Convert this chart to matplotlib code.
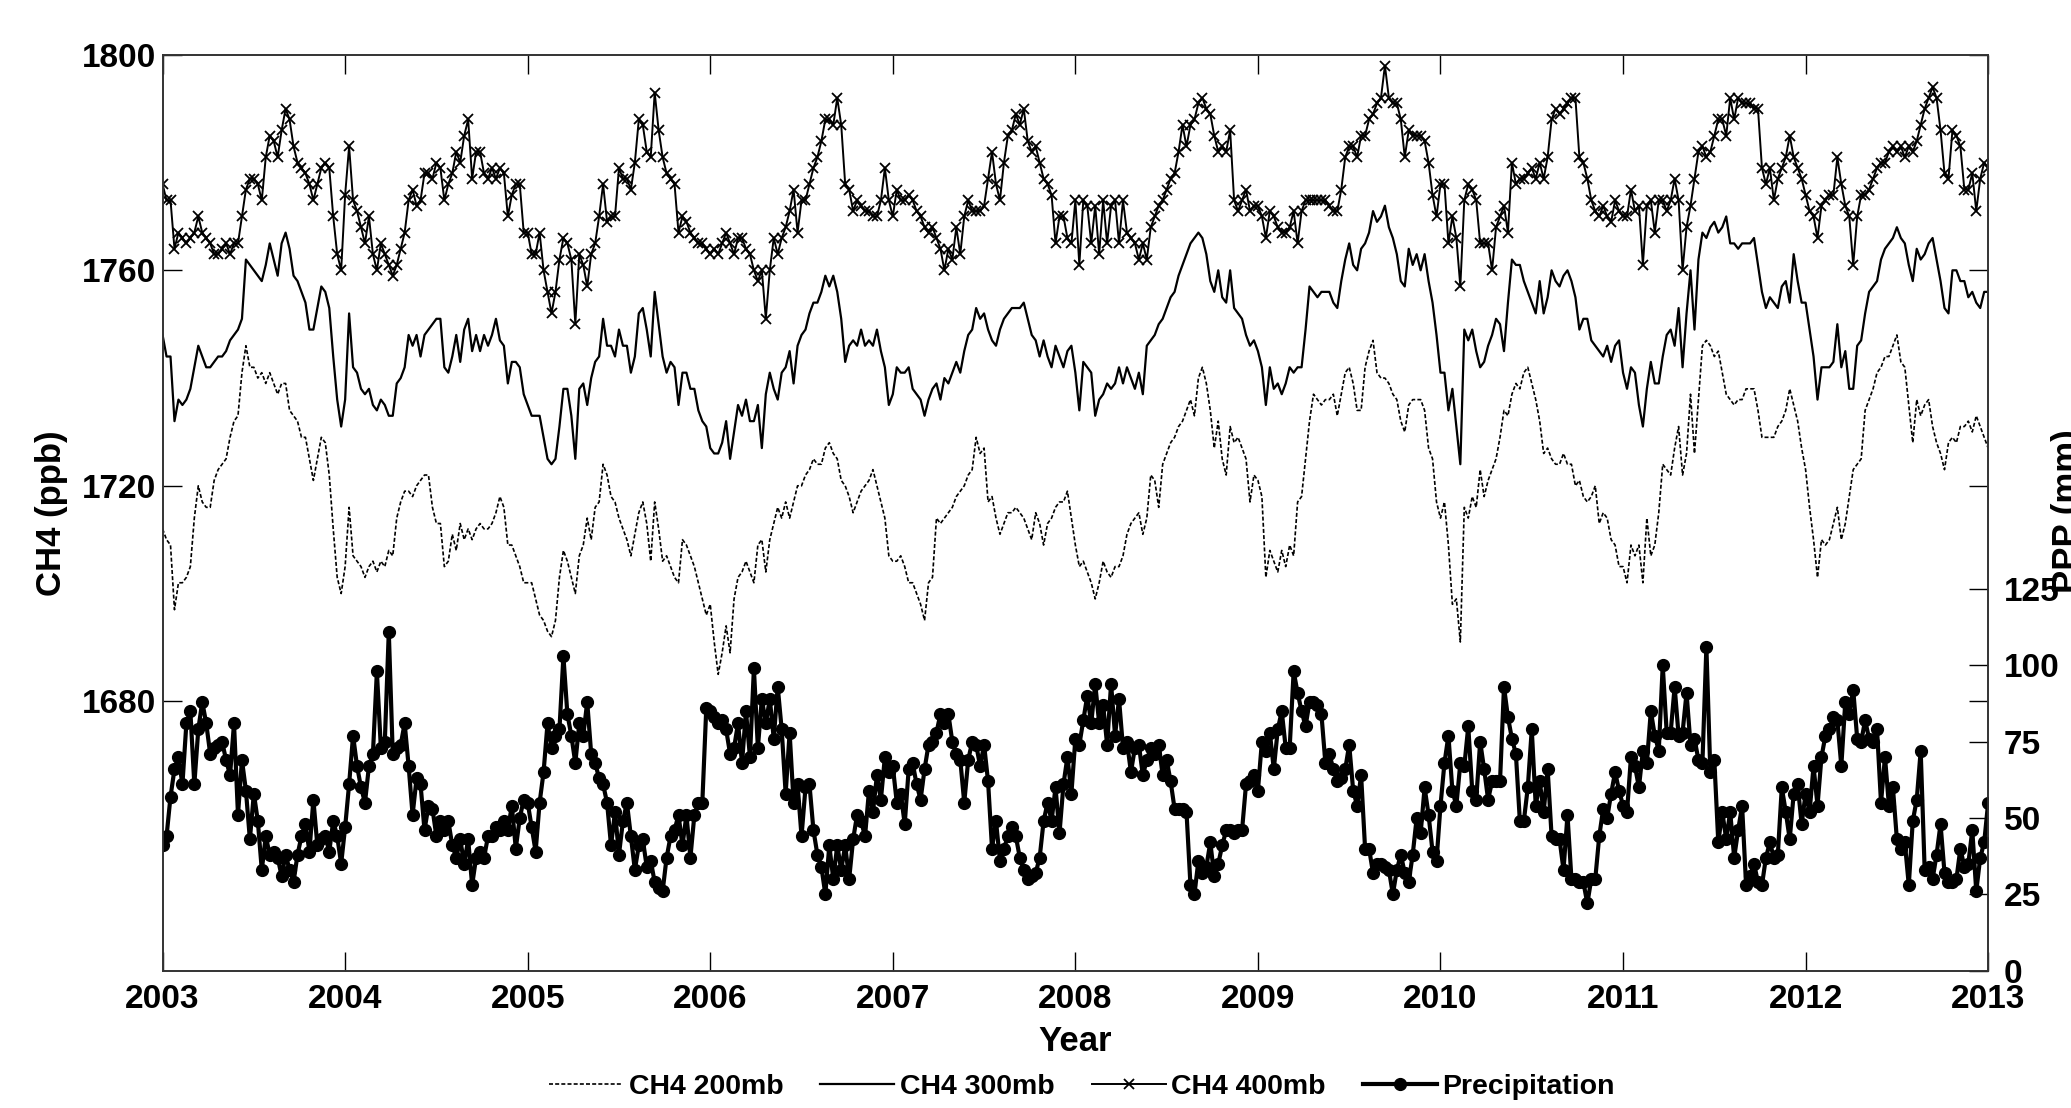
import numpy as np
import matplotlib
matplotlib.use("Agg")
import matplotlib.pyplot as plt

plt.rcParams['font.family'] = ['Liberation Sans', 'DejaVu Sans']
plt.rcParams['font.weight'] = 'bold'

# 8-day values, 46 per year, 2003.0 .. 2013.0
ch4_400 = [
    1776,1773,1773,1764,1767,1766,1765,1766,1767,1770,1767,1766,1765,1763,1763,1764,1765,1763,1765,1765,1770,1775,1777,1777,1776,1773,1781,1785,1784,1781,1786,1790,1788,1783,1780,1779,1778,1776,1773,1776,1779,1780,1779,1770,1763,1760,
    1774,1783,1773,1771,1768,1765,1770,1763,1760,1765,1763,1761,1759,1761,1764,1767,1773,1775,1772,1773,1778,1778,1777,1780,1779,1773,1776,1778,1782,1780,1785,1788,1777,1782,1782,1778,1777,1779,1777,1779,1778,1770,1774,1776,1776,1767,
    1767,1763,1763,1767,1760,1756,1752,1756,1762,1766,1765,1762,1750,1763,1761,1757,1763,1765,1770,1776,1769,1770,1770,1779,1777,1777,1775,1780,1788,1787,1782,1781,1793,1786,1781,1778,1777,1776,1767,1770,1769,1767,1766,1765,1765,1764,
    1763,1764,1763,1765,1767,1765,1763,1766,1766,1764,1763,1760,1758,1760,1751,1760,1766,1763,1766,1768,1771,1775,1767,1773,1773,1776,1779,1781,1784,1788,1788,1787,1792,1787,1776,1775,1771,1773,1772,1771,1771,1770,1770,1773,1779,1773,
    1770,1775,1773,1773,1774,1773,1771,1770,1768,1767,1768,1766,1764,1760,1764,1762,1768,1763,1770,1773,1771,1771,1771,1772,1777,1782,1776,1773,1780,1785,1786,1789,1787,1790,1784,1782,1783,1780,1777,1776,1774,1765,1770,1770,1766,1765,
    1773,1761,1773,1772,1765,1772,1763,1773,1765,1772,1773,1765,1773,1767,1766,1765,1762,1765,1762,1768,1770,1772,1773,1775,1777,1778,1782,1787,1783,1787,1788,1791,1792,1790,1789,1785,1782,1783,1782,1786,1773,1771,1773,1775,1771,1772,
    1772,1770,1766,1771,1770,1768,1767,1767,1768,1771,1765,1771,1773,1773,1773,1773,1773,1773,1772,1771,1771,1775,1781,1783,1783,1781,1785,1785,1788,1789,1791,1792,1798,1792,1791,1791,1788,1781,1786,1785,1785,1785,1784,1780,1774,1770,
    1776,1776,1765,1770,1766,1757,1773,1776,1775,1773,1765,1765,1765,1760,1768,1770,1772,1767,1780,1776,1777,1777,1778,1779,1777,1780,1777,1781,1788,1790,1789,1790,1791,1792,1792,1781,1780,1777,1773,1771,1770,1772,1770,1769,1773,1771,
    1770,1770,1775,1771,1772,1761,1772,1773,1767,1773,1773,1771,1773,1777,1773,1760,1768,1772,1777,1782,1783,1781,1782,1785,1788,1788,1785,1792,1788,1792,1791,1791,1791,1790,1790,1779,1776,1779,1773,1777,1779,1781,1785,1781,1779,1777,
    1774,1771,1770,1766,1772,1773,1774,1774,1781,1776,1772,1770,1761,1770,1774,1774,1775,1777,1779,1780,1780,1782,1783,1782,1783,1781,1783,1782,1784,1787,1790,1792,1794,1792,1786,1778,1777,1786,1785,1783,1775,1775,1778,1771,1777,1780,
    1779]

ch4_300 = [
    1748,1744,1744,1732,1736,1735,1736,1738,1742,1746,1744,1742,1742,1743,1744,1744,1745,1747,1748,1749,1751,1762,1761,1760,1759,1758,1761,1765,1762,1759,1765,1767,1764,1759,1758,1756,1754,1749,1749,1753,1757,1756,1753,1744,1736,1731,
    1736,1752,1742,1741,1738,1737,1738,1735,1734,1736,1735,1733,1733,1739,1740,1742,1748,1746,1748,1744,1748,1749,1750,1751,1751,1742,1741,1744,1748,1743,1749,1751,1745,1748,1745,1748,1746,1748,1751,1747,1746,1739,1743,1743,1742,1737,
    1735,1733,1733,1733,1729,1725,1724,1725,1731,1738,1738,1733,1725,1738,1739,1735,1740,1743,1744,1751,1746,1746,1744,1749,1746,1746,1741,1744,1752,1753,1749,1744,1756,1750,1744,1741,1743,1742,1735,1741,1741,1738,1738,1734,1732,1731,
    1727,1726,1726,1728,1732,1725,1730,1735,1733,1736,1732,1732,1735,1727,1737,1741,1738,1736,1741,1742,1745,1739,1746,1748,1749,1752,1754,1754,1756,1759,1757,1759,1756,1751,1743,1746,1747,1746,1749,1746,1747,1746,1749,1745,1742,1735,
    1737,1742,1741,1741,1742,1738,1737,1736,1733,1736,1738,1739,1736,1740,1739,1741,1743,1741,1745,1748,1749,1753,1751,1752,1749,1747,1746,1749,1751,1752,1753,1753,1753,1754,1751,1748,1747,1744,1747,1744,1742,1746,1744,1742,1745,1746,
    1741,1734,1743,1742,1741,1733,1736,1737,1739,1738,1739,1742,1739,1742,1740,1738,1741,1737,1746,1747,1748,1750,1751,1753,1755,1756,1759,1761,1763,1765,1766,1767,1766,1763,1758,1756,1760,1755,1754,1760,1753,1752,1751,1748,1746,1747,
    1745,1742,1735,1742,1738,1739,1737,1739,1742,1741,1742,1742,1749,1757,1756,1755,1756,1756,1756,1754,1753,1758,1762,1765,1761,1760,1764,1765,1767,1771,1769,1770,1772,1768,1766,1763,1758,1757,1764,1761,1763,1760,1763,1758,1754,1748,
    1741,1741,1734,1738,1731,1724,1749,1747,1749,1745,1742,1743,1746,1748,1751,1750,1745,1754,1762,1761,1761,1758,1756,1754,1752,1758,1752,1755,1760,1758,1757,1759,1760,1758,1755,1749,1751,1751,1747,1746,1745,1744,1746,1743,1746,1747,
    1741,1738,1742,1741,1735,1731,1738,1743,1739,1739,1744,1748,1749,1746,1753,1742,1752,1760,1749,1762,1767,1766,1768,1769,1767,1768,1770,1765,1765,1764,1765,1765,1765,1766,1761,1756,1753,1755,1754,1753,1757,1758,1754,1763,1758,1754,
    1754,1749,1744,1736,1742,1742,1742,1743,1750,1742,1745,1738,1738,1746,1747,1752,1756,1757,1758,1762,1764,1765,1766,1768,1766,1765,1761,1758,1764,1762,1763,1765,1766,1762,1758,1753,1752,1760,1760,1758,1758,1755,1756,1754,1753,1756,
    1756]

ch4_200 = [
    1712,1710,1709,1697,1702,1702,1703,1705,1714,1720,1717,1716,1716,1721,1723,1724,1725,1729,1732,1733,1741,1746,1742,1742,1740,1741,1739,1741,1739,1737,1739,1739,1734,1733,1732,1729,1729,1725,1721,1725,1729,1728,1722,1712,1703,1700,
    1705,1716,1707,1706,1705,1703,1705,1706,1704,1706,1705,1708,1707,1714,1717,1719,1719,1718,1720,1721,1722,1722,1716,1713,1713,1705,1706,1711,1708,1713,1710,1712,1710,1712,1713,1712,1712,1713,1715,1718,1716,1709,1709,1707,1705,1702,
    1702,1702,1699,1696,1695,1693,1692,1695,1703,1708,1706,1703,1700,1707,1709,1714,1710,1716,1717,1724,1722,1718,1717,1714,1712,1710,1707,1711,1715,1717,1713,1706,1717,1712,1706,1707,1705,1703,1702,1710,1709,1707,1705,1702,1699,1696,
    1698,1691,1685,1689,1694,1689,1699,1703,1704,1706,1704,1702,1709,1710,1704,1710,1713,1716,1714,1717,1714,1717,1720,1720,1722,1723,1725,1724,1724,1727,1728,1726,1725,1721,1720,1718,1715,1717,1719,1720,1721,1723,1720,1717,1714,1707,
    1706,1706,1707,1705,1702,1702,1700,1698,1695,1702,1703,1714,1713,1714,1715,1716,1718,1719,1720,1722,1723,1729,1726,1727,1717,1718,1714,1711,1713,1715,1715,1716,1715,1714,1712,1710,1715,1713,1709,1713,1714,1716,1717,1717,1719,1714,
    1709,1705,1706,1704,1702,1699,1702,1706,1704,1703,1705,1705,1707,1711,1713,1714,1715,1711,1714,1722,1721,1716,1724,1726,1728,1729,1731,1732,1734,1736,1733,1740,1742,1739,1734,1727,1732,1725,1722,1731,1728,1729,1727,1725,1717,1722,
    1721,1718,1703,1708,1706,1704,1708,1705,1709,1707,1717,1718,1725,1732,1737,1736,1735,1736,1736,1737,1733,1737,1741,1742,1739,1734,1734,1742,1745,1747,1741,1740,1740,1739,1737,1736,1732,1730,1735,1736,1736,1736,1734,1727,1725,1717,
    1714,1717,1709,1698,1699,1691,1716,1714,1718,1716,1723,1718,1721,1723,1725,1729,1734,1733,1737,1739,1738,1741,1742,1739,1736,1732,1726,1727,1725,1724,1724,1726,1724,1724,1720,1721,1718,1717,1718,1720,1713,1715,1714,1710,1709,1705,
    1705,1702,1709,1707,1709,1702,1714,1707,1709,1715,1724,1723,1722,1727,1731,1722,1726,1737,1726,1736,1746,1747,1746,1744,1745,1741,1737,1736,1735,1736,1736,1738,1738,1738,1734,1729,1729,1729,1729,1731,1732,1734,1738,1735,1732,1727,
    1723,1716,1710,1703,1710,1709,1710,1713,1716,1710,1713,1718,1723,1724,1725,1734,1736,1738,1741,1742,1744,1744,1746,1748,1743,1742,1735,1728,1736,1733,1735,1736,1731,1728,1726,1723,1728,1729,1728,1731,1731,1732,1730,1733,1731,1729,
    1727]

precip = [
    41,44,57,66,70,61,81,85,61,79,88,81,71,73,74,75,69,64,81,51,69,59,43,58,49,33,44,38,39,37,31,38,33,29,38,44,48,39,56,41,43,44,39,49,44,35,
    47,61,77,67,60,55,67,71,98,73,75,111,71,73,74,81,67,51,63,61,46,54,53,44,49,46,49,41,37,43,35,43,28,37,39,37,44,44,47,46,49,46,54,40,50,56,
    55,47,39,55,65,81,73,77,79,103,84,77,68,81,77,88,71,68,63,61,55,41,52,38,49,55,44,33,41,43,34,36,29,27,26,37,44,46,51,41,51,37,51,55,55,86,
    85,83,81,82,79,71,73,81,68,85,70,99,73,89,81,89,76,93,79,58,78,55,61,44,60,61,46,38,34,25,41,30,41,33,41,30,43,51,49,44,59,52,64,56,70,65,
    67,55,58,48,66,68,61,56,66,74,75,78,84,81,84,75,71,69,55,69,75,74,67,74,62,40,49,36,40,44,47,44,37,33,30,31,32,37,49,55,49,60,45,61,70,58,
    76,74,82,90,81,94,81,87,74,94,77,89,73,75,65,73,74,64,69,73,71,74,64,69,62,53,53,53,52,28,25,36,32,34,42,31,35,41,46,46,45,46,46,61,62,64,
    59,75,72,78,66,79,85,73,73,98,91,85,80,88,88,87,84,68,71,66,62,63,66,74,59,54,64,40,40,32,35,35,34,33,25,33,38,32,29,38,50,45,60,51,39,36,
    54,68,77,59,54,68,67,80,59,56,75,66,56,62,62,62,93,83,76,71,49,49,60,79,54,62,52,66,44,43,43,33,51,30,30,29,29,22,30,30,44,53,50,58,65,59,
    54,52,70,67,60,72,68,85,77,72,100,78,78,93,77,78,91,74,76,69,68,106,65,69,42,52,43,52,37,46,54,28,31,35,29,28,37,42,37,38,60,52,43,58,61,48,
    58,52,67,54,70,77,79,83,82,67,88,84,92,76,75,82,76,75,79,55,70,54,60,43,40,42,28,49,56,72,33,34,30,38,48,32,29,29,30,40,34,35,46,26,37,42,
    55]

years = np.linspace(2003, 2013, len(precip))
year_ticks = list(range(2003, 2014))
ch4_ticks = [1680, 1720, 1760, 1800]
pr_ticks = [0, 25, 50, 75, 100, 125]

fig = plt.figure(figsize=(20.71, 11.08), dpi=100)
ax = fig.add_axes([0.0785, 0.124, 0.8815, 0.8265])
ax2 = ax.twinx()

l200, = ax.plot(years, ch4_200, color='black', lw=1.2, linestyle=(0, (2.4, 1.3)), label='CH4 200mb')
l300, = ax.plot(years, ch4_300, color='black', lw=1.6, label='CH4 300mb')
l400, = ax.plot(years, ch4_400, color='black', lw=1.4, marker='x', markersize=7, mew=1.3, label='CH4 400mb')
lpr, = ax2.plot(years, precip, color='black', lw=3.0, marker='o', markersize=8.5, label='Precipitation')

ax.set_xlim(2003, 2013)
ax.set_ylim(1630, 1800)
ax2.set_ylim(0, 300)
ax.set_xticks(year_ticks)
ax.set_xticklabels([str(y) for y in year_ticks])
ax.set_yticks(ch4_ticks)
ax2.set_yticks(pr_ticks)

ax.tick_params(axis='both', direction='in', length=14, width=1, labelsize=24, pad=8)
ax.tick_params(axis='x', top=True, pad=10)
ax.tick_params(axis='y', right=True, pad=5)
ax2.tick_params(axis='y', direction='in', length=14, width=1, labelsize=24, pad=11)

for a in (ax, ax2):
    for s in a.spines.values():
        s.set_color('#333333')
        s.set_linewidth(1.2)

ax.set_xlabel('Year', fontsize=25, fontweight='bold', labelpad=7)
ax.set_ylabel('CH4 (ppb)', fontsize=25, fontweight='bold')
ax.yaxis.set_label_coords(-0.052, 0.5)
fig.text(0.9905, 0.539, 'PPP (mm)', rotation=90, ha='left', va='center', fontsize=25, fontweight='bold')

fig.legend(handles=[l200, l300, l400, lpr], loc='center', bbox_to_anchor=(0.5224, 0.019),
           ncol=4, frameon=False, fontsize=20.5, handlelength=2.6, columnspacing=1.3, handletextpad=0.2)

fig.savefig('out.png', dpi=100)
